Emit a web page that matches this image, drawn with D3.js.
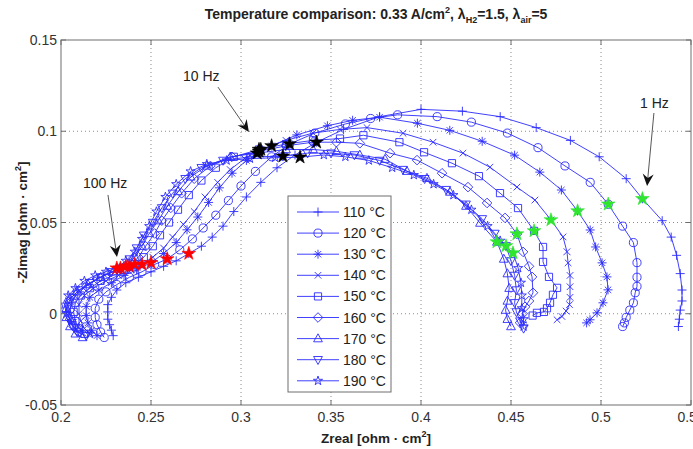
<html lang="en">
<head>
  <title>Temperature comparison</title>
  <meta charset="utf-8">
</head>

<script src="https://d3js.org/d3.v7.min.js"></script>

<style>
  body { margin: 0; background: #fff; }
  text { font-family: 'Liberation Sans', Arial, sans-serif; }
</style>

<body>
  <svg id="canvas"></svg>
</body>

<script>

// ************************************************************************************** //
// Data  (Zreal, -Zimag) in ohm.cm2, high frequency first

var temps = ['110 °C', '120 °C', '130 °C', '140 °C', '150 °C', '160 °C', '170 °C', '180 °C', '190 °C'];
var markers = ['plus', 'circle', 'asterisk', 'cross', 'square', 'diamond', 'triUp', 'triDown', 'pentagram'];

var curve110 = [[0.229,-0.012],[0.228,-0.009],[0.227,-0.006],[0.226,-0.003],[0.226,0.001],[0.226,0.005],[0.228,0.009],[0.231,0.013],[0.236,0.017],[0.243,0.020],[0.250,0.023],[0.257,0.026],[0.264,0.029],[0.271,0.033],
  [0.278,0.037],[0.284,0.042],[0.290,0.048],[0.296,0.056],[0.303,0.064],[0.311,0.072],[0.320,0.080],[0.330,0.087],[0.342,0.094],
  [0.357,0.101],[0.377,0.108],[0.400,0.112],[0.423,0.111],[0.444,0.108],[0.464,0.102],[0.483,0.095],[0.499,0.086],[0.514,0.074],[0.523,0.063],
  [0.534,0.051],[0.539,0.042],[0.542,0.032],[0.544,0.022],[0.545,0.013],[0.545,0.007],[0.544,0.002],[0.5435,-0.003],[0.543,-0.007]];

var curve120 = [[0.224,-0.013],[0.222,-0.010],[0.220,-0.006],[0.219,-0.002],[0.219,0.003],[0.221,0.008],[0.225,0.012],[0.231,0.016],[0.238,0.020],[0.245,0.023],[0.252,0.027],[0.259,0.030],
  [0.266,0.035],[0.273,0.041],[0.279,0.047],[0.286,0.054],[0.293,0.062],[0.300,0.070],[0.308,0.078],[0.317,0.086],[0.327,0.093],
  [0.341,0.099],[0.358,0.104],[0.372,0.107],[0.387,0.109],[0.409,0.108],[0.428,0.105],[0.448,0.099],[0.465,0.091],[0.480,0.081],[0.494,0.072],[0.504,0.060],
  [0.512,0.048],[0.518,0.039],[0.520,0.028],[0.520,0.020],[0.520,0.015],[0.519,0.0115],[0.518,0.006],[0.516,0.002],[0.514,-0.002],[0.513,-0.005],[0.512,-0.007]];

var curve130 = [[0.220,-0.012],[0.217,-0.009],[0.215,-0.005],[0.214,-0.001],[0.214,0.004],[0.216,0.009],[0.221,0.013],[0.228,0.017],[0.235,0.021],[0.242,0.024],[0.250,0.028],
  [0.257,0.033],[0.264,0.039],[0.270,0.046],[0.276,0.053],[0.282,0.061],[0.288,0.069],[0.295,0.077],[0.303,0.084],[0.310,0.088],[0.317,0.092],
  [0.331,0.098],[0.348,0.103],[0.362,0.106],[0.377,0.1077],[0.398,0.1044],[0.416,0.1005],[0.434,0.0945],[0.452,0.0869],[0.466,0.0776],[0.478,0.0678],[0.487,0.0563],
  [0.494,0.0459],[0.497,0.0366],[0.5006,0.0279],[0.5033,0.0202],[0.5039,0.0131],[0.5011,0.006],[0.4978,0.0005],[0.4939,-0.0033],[0.492,-0.005]];

var curve140 = [[0.216,-0.011],[0.213,-0.008],[0.211,-0.004],[0.210,0.000],[0.210,0.005],[0.213,0.010],[0.218,0.014],[0.225,0.018],[0.232,0.021],[0.239,0.024],[0.245,0.027],
  [0.251,0.031],[0.257,0.036],[0.262,0.042],[0.268,0.049],[0.274,0.056],[0.280,0.064],[0.287,0.072],[0.294,0.079],[0.302,0.085],[0.311,0.090],
  [0.325,0.095],[0.340,0.099],[0.355,0.101],[0.370,0.102],[0.390,0.0989],[0.4067,0.094],[0.4233,0.088],[0.4383,0.0803],[0.4533,0.0694],[0.4633,0.0623],[0.4722,0.0514],
  [0.4789,0.0421],[0.4811,0.034],[0.4817,0.0279],[0.4828,0.021],[0.4828,0.0148],[0.4828,0.009],[0.4825,0.005],[0.4806,0.0015],[0.4783,-0.0015],[0.4756,-0.0033]];

var curve150 = [[0.213,-0.011],[0.210,-0.008],[0.208,-0.004],[0.207,0.001],[0.208,0.006],[0.211,0.010],[0.216,0.014],[0.222,0.018],[0.229,0.021],[0.235,0.024],[0.241,0.027],
  [0.246,0.031],[0.251,0.037],[0.255,0.043],[0.260,0.050],[0.265,0.057],[0.271,0.065],[0.278,0.073],[0.286,0.080],[0.296,0.086],[0.310,0.090],
  [0.325,0.093],[0.340,0.095],[0.355,0.096],[0.368,0.0978],[0.388,0.094],[0.4017,0.0885],[0.4172,0.0825],[0.4322,0.0754],[0.4439,0.0661],[0.4539,0.0579],[0.4628,0.0454],
  [0.4678,0.0366],[0.4678,0.0284],[0.4711,0.0202],[0.4756,0.0142],[0.4733,0.0104],[0.4717,0.006],[0.470,0.003],[0.4683,0.001],[0.4644,0.0005],[0.462,-0.001]];

var curve160 = [[0.210,-0.010],[0.207,-0.007],[0.205,-0.003],[0.205,0.002],[0.206,0.007],[0.209,0.011],[0.214,0.015],[0.220,0.019],[0.226,0.022],[0.232,0.024],[0.238,0.026],
  [0.243,0.031],[0.247,0.037],[0.252,0.044],[0.256,0.051],[0.261,0.058],[0.267,0.066],[0.274,0.074],[0.283,0.081],[0.295,0.086],[0.310,0.089],
  [0.325,0.092],[0.340,0.094],[0.353,0.094],[0.366,0.0934],[0.3828,0.088],[0.3978,0.0842],[0.4117,0.077],[0.4261,0.0694],[0.4367,0.0607],[0.4467,0.0525],[0.4533,0.0437],
  [0.4567,0.0339],[0.460,0.026],[0.4617,0.0202],[0.4622,0.0115],[0.460,0.007],[0.4578,0.0038],[0.4565,0.000],[0.455,-0.0049]];

var curve170 = [[0.212,-0.013],[0.208,-0.011],[0.205,-0.007],[0.203,-0.002],[0.203,0.003],[0.205,0.008],[0.209,0.012],[0.215,0.016],[0.222,0.020],[0.229,0.023],[0.236,0.026],
  [0.241,0.031],[0.245,0.037],[0.249,0.044],[0.254,0.051],[0.259,0.059],[0.265,0.067],[0.272,0.075],[0.281,0.081],[0.294,0.086],[0.309,0.088],
  [0.325,0.090],[0.340,0.090],[0.353,0.089],[0.366,0.087],[0.380,0.0847],[0.3922,0.0781],[0.4033,0.0743],[0.4161,0.0667],[0.425,0.059],[0.4328,0.0497],[0.4422,0.0393],
  [0.446,0.030],[0.448,0.022],[0.449,0.014],[0.448,0.007],[0.447,0.002],[0.448,-0.003],[0.450,-0.007]];

var curve180 = [[0.214,-0.012],[0.209,-0.010],[0.206,-0.006],[0.204,-0.001],[0.204,0.004],[0.206,0.009],[0.210,0.013],[0.216,0.017],[0.222,0.020],[0.228,0.023],[0.233,0.025],
  [0.238,0.030],[0.242,0.036],[0.246,0.043],[0.251,0.050],[0.256,0.058],[0.262,0.066],[0.269,0.074],[0.278,0.080],[0.290,0.084],[0.305,0.086],[0.3233,0.0863],
  [0.337,0.088],[0.350,0.088],[0.363,0.087],[0.377,0.084],[0.390,0.079],[0.402,0.074],[0.414,0.068],[0.425,0.060],[0.434,0.052],[0.441,0.044],[0.4472,0.0372],
  [0.450,0.029],[0.452,0.021],[0.453,0.013],[0.452,0.006],[0.453,0.001],[0.455,-0.004],[0.457,-0.008]];

var curve190 = [[0.216,-0.011],[0.210,-0.008],[0.206,-0.004],[0.203,0.000],[0.202,0.005],[0.204,0.010],[0.208,0.014],[0.213,0.018],[0.219,0.021],[0.225,0.023],[0.231,0.025],
  [0.236,0.029],[0.241,0.034],[0.245,0.041],[0.249,0.048],[0.253,0.056],[0.258,0.064],[0.264,0.071],[0.272,0.078],[0.281,0.082],[0.292,0.084],[0.305,0.085],[0.319,0.0855],[0.3328,0.0858],
  [0.346,0.087],[0.358,0.086],[0.371,0.084],[0.384,0.080],[0.396,0.076],[0.407,0.071],[0.418,0.065],[0.428,0.057],[0.437,0.048],[0.444,0.040],[0.4511,0.0333],
  [0.454,0.025],[0.4555,0.017],[0.456,0.010],[0.456,0.003],[0.457,-0.003],[0.457,-0.007]];

var curves = [curve110, curve120, curve130, curve140, curve150, curve160, curve170, curve180, curve190];

// frequency marks: 100 Hz (red), 10 Hz (black), 1 Hz (green)
var stars100Hz = [[0.271,0.033],[0.259,0.030],[0.250,0.028],[0.245,0.027],[0.241,0.027],[0.238,0.026],[0.236,0.026],[0.233,0.025],[0.231,0.025]];
var stars10Hz  = [[0.342,0.094],[0.327,0.093],[0.317,0.092],[0.311,0.090],[0.310,0.090],[0.310,0.089],[0.309,0.088],[0.3233,0.0863],[0.3328,0.0858]];
var stars1Hz   = [[0.523,0.063],[0.504,0.060],[0.487,0.0563],[0.4722,0.0514],[0.4628,0.0454],[0.4533,0.0437],[0.4422,0.0393],[0.4472,0.0372],[0.4511,0.0333]];

var xTicks = [0.2, 0.25, 0.3, 0.35, 0.4, 0.45, 0.5, 0.55];
var yTicks = [-0.05, 0, 0.05, 0.1, 0.15];

// label, text anchor point, arrow start, arrow tip
var notes = [
  { label: '10 Hz',  text: [0.2678, 0.1275], from: [0.2872, 0.1242], to: [0.3044, 0.0996] },
  { label: '100 Hz', text: [0.2122, 0.0689], from: [0.2261, 0.0651], to: [0.2311, 0.0311] },
  { label: '1 Hz',   text: [0.5217, 0.1127], from: [0.5294, 0.1100], to: [0.5256, 0.0700] }
];

// ************************************************************************************** //
// Setup

var width = 693, height = 449;
var pLeft = 61, pRight = 691, pTop = 40, pBottom = 405;
var blue = '#2b2bff';

var svg = d3.select('#canvas').attr('width', width).attr('height', height);

var x = d3.scaleLinear().domain([0.2, 0.55]).range([pLeft, pRight]);
var y = d3.scaleLinear().domain([-0.05, 0.15]).range([pBottom, pTop]);

svg.append('defs').append('clipPath').attr('id', 'clip')
  .append('rect').attr('x', pLeft).attr('y', pTop).attr('width', pRight - pLeft).attr('height', pBottom - pTop);

function markerPath(type){
  switch(type){
    case 'plus': return 'M-4.5,0H4.5M0,-4.5V4.5';
    case 'circle': return d3.symbol(d3.symbolCircle, 52)();
    case 'asterisk': return 'M-4.5,0H4.5M0,-4.5V4.5M-3.2,-3.2L3.2,3.2M-3.2,3.2L3.2,-3.2';
    case 'cross': return 'M-3.3,-3.3L3.3,3.3M-3.3,3.3L3.3,-3.3';
    case 'square': return 'M-3.6,-3.6H3.6V3.6H-3.6Z';
    case 'diamond': return 'M0,-4.8L4.8,0L0,4.8L-4.8,0Z';
    case 'triUp': return 'M0,-4.8L4.4,3.2L-4.4,3.2Z';
    case 'triDown': return 'M0,4.8L4.4,-3.2L-4.4,-3.2Z';
    case 'pentagram': return d3.symbol(d3.symbolStar, 26)();
  }
}

// ************************************************************************************** //
// Grid and curves

var grid = svg.append('g').attr('stroke', '#8c8c8c').attr('stroke-width', 1).attr('stroke-dasharray', '1,3');
grid.selectAll('.gx').data(xTicks.slice(1, -1)).enter().append('line')
  .attr('x1', d => x(d)).attr('x2', d => x(d)).attr('y1', pTop).attr('y2', pBottom);
grid.selectAll('.gy').data(yTicks.slice(1, -1)).enter().append('line')
  .attr('x1', pLeft).attr('x2', pRight).attr('y1', d => y(d)).attr('y2', d => y(d));

var plot = svg.append('g').attr('clip-path', 'url(#clip)');
var line = d3.line().x(d => x(d[0])).y(d => y(d[1]));

curves.forEach(function(c, i){
  plot.append('path').datum(c).attr('d', line)
    .attr('fill', 'none').attr('stroke', blue).attr('stroke-width', 0.9);
  plot.append('g').selectAll('path').data(c).enter().append('path')
    .attr('transform', d => 'translate(' + x(d[0]) + ',' + y(d[1]) + ')')
    .attr('d', markerPath(markers[i]))
    .attr('fill', 'none').attr('stroke', blue).attr('stroke-width', 0.9);
});

var bigStar = d3.symbol(d3.symbolStar, 58)();
[[stars100Hz, '#ff0000'], [stars10Hz, '#000000'], [stars1Hz, '#2ee62e']].forEach(function(s){
  plot.append('g').selectAll('path').data(s[0]).enter().append('path')
    .attr('transform', d => 'translate(' + x(d[0]) + ',' + y(d[1]) + ')')
    .attr('d', bigStar).attr('fill', s[1]).attr('stroke', s[1]).attr('stroke-width', 0.6);
});

// box with inward ticks
var axis = svg.append('g').attr('stroke', '#6e6e6e').attr('stroke-width', 1);
axis.append('rect').attr('x', pLeft).attr('y', pTop).attr('width', pRight - pLeft).attr('height', pBottom - pTop).attr('fill', 'none');
xTicks.forEach(function(d){
  axis.append('line').attr('x1', x(d)).attr('x2', x(d)).attr('y1', pBottom).attr('y2', pBottom - 5);
  axis.append('line').attr('x1', x(d)).attr('x2', x(d)).attr('y1', pTop).attr('y2', pTop + 5);
});
yTicks.forEach(function(d){
  axis.append('line').attr('x1', pLeft).attr('x2', pLeft + 5).attr('y1', y(d)).attr('y2', y(d));
  axis.append('line').attr('x1', pRight).attr('x2', pRight - 5).attr('y1', y(d)).attr('y2', y(d));
});

svg.append('g').selectAll('text').data(xTicks).enter().append('text')
  .attr('x', d => x(d)).attr('y', pBottom + 17).attr('text-anchor', 'middle')
  .attr('font-size', 14).attr('fill', '#333').text(d => String(d));
svg.append('g').selectAll('text').data(yTicks).enter().append('text')
  .attr('x', pLeft - 4).attr('y', d => y(d) + 5).attr('text-anchor', 'end')
  .attr('font-size', 14).attr('fill', '#333').text(d => String(d));

// ************************************************************************************** //
// Titles

var title = svg.append('text').attr('x', (pLeft + pRight) / 2).attr('y', 19).attr('text-anchor', 'middle')
  .attr('font-size', 14).attr('font-weight', 'bold').attr('fill', '#222');
title.append('tspan').text('Temperature comparison: 0.33 A/cm');
title.append('tspan').attr('dy', -6).attr('font-size', 9).text('2');
title.append('tspan').attr('dy', 6).text(', λ');
title.append('tspan').attr('dy', 4).attr('font-size', 9).text('H2');
title.append('tspan').attr('dy', -4).text('=1.5, λ');
title.append('tspan').attr('dy', 4).attr('font-size', 9).text('air');
title.append('tspan').attr('dy', -4).text('=5');

var xlab = svg.append('text').attr('x', (pLeft + pRight) / 2).attr('y', 443).attr('text-anchor', 'middle')
  .attr('font-size', 13.5).attr('font-weight', 'bold').attr('fill', '#222');
xlab.append('tspan').text('Zreal [ohm · cm');
xlab.append('tspan').attr('dy', -6).attr('font-size', 9).text('2');
xlab.append('tspan').attr('dy', 6).text(']');

var ylab = svg.append('text').attr('transform', 'translate(27,' + (pTop + pBottom) / 2 + ') rotate(-90)')
  .attr('text-anchor', 'middle').attr('font-size', 13.5).attr('font-weight', 'bold').attr('fill', '#222');
ylab.append('tspan').text('-Zimag [ohm · cm');
ylab.append('tspan').attr('dy', -6).attr('font-size', 9).text('2');
ylab.append('tspan').attr('dy', 6).text(']');

// ************************************************************************************** //
// Annotations

notes.forEach(function(n){
  svg.append('text').attr('x', x(n.text[0])).attr('y', y(n.text[1]))
    .attr('font-size', 14).attr('fill', '#222').text(n.label);
  var x1 = x(n.from[0]), y1 = y(n.from[1]), x2 = x(n.to[0]), y2 = y(n.to[1]);
  var a = Math.atan2(y2 - y1, x2 - x1);
  svg.append('line').attr('x1', x1).attr('y1', y1).attr('x2', x2 - 6 * Math.cos(a)).attr('y2', y2 - 6 * Math.sin(a))
    .attr('stroke', '#444').attr('stroke-width', 0.9);
  svg.append('path').attr('transform', 'translate(' + x2 + ',' + y2 + ') rotate(' + (a * 180 / Math.PI) + ')')
    .attr('d', 'M0,0L-12,-5.5L-8,0L-12,5.5Z').attr('fill', '#111');
});

// ************************************************************************************** //
// Legend

var legend = svg.append('g').attr('transform', 'translate(288,196)');
legend.append('rect').attr('width', 103).attr('height', 196).attr('fill', '#fff').attr('stroke', '#6e6e6e');
temps.forEach(function(t, i){
  var row = legend.append('g').attr('transform', 'translate(0,' + (16 + i * 21.1) + ')');
  row.append('line').attr('x1', 9).attr('x2', 51).attr('stroke', blue).attr('stroke-width', 0.9);
  row.append('path').attr('transform', 'translate(30,0)').attr('d', markerPath(markers[i]))
    .attr('fill', 'none').attr('stroke', blue).attr('stroke-width', 0.9);
  row.append('text').attr('x', 55).attr('y', 5).attr('font-size', 14).attr('fill', '#222').text(t);
});

</script>
</html>
